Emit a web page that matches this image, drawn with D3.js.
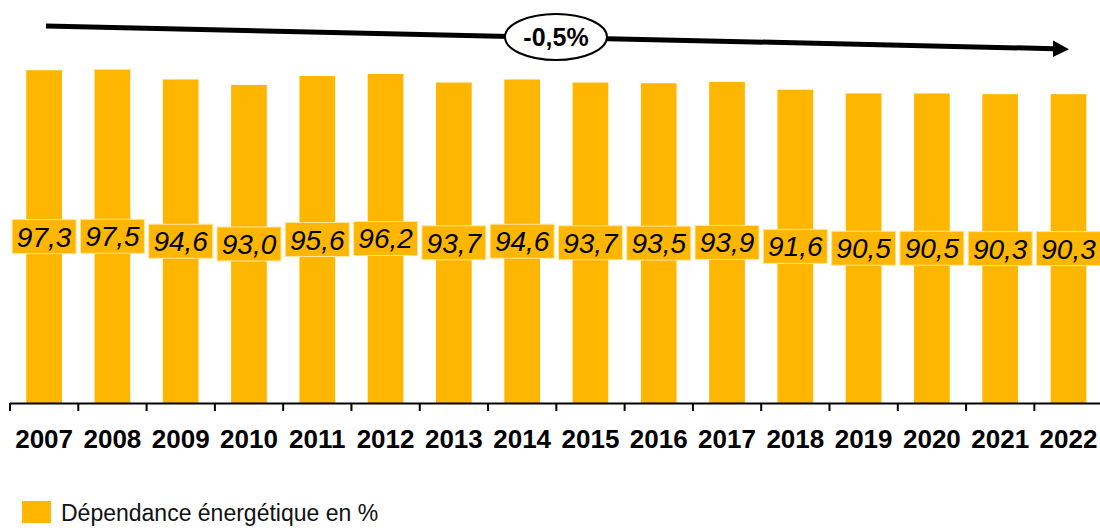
<!DOCTYPE html>
<html><head><meta charset="utf-8">
<script src="https://cdn.jsdelivr.net/npm/d3@7"></script>
<style>body{margin:0;background:#fff}svg{display:block}</style>
</head><body>
<svg id="c" width="1100" height="528"></svg>
<script>
const years = ["2007","2008","2009","2010","2011","2012","2013","2014","2015","2016","2017","2018","2019","2020","2021","2022"];
const values = [97.3,97.5,94.6,93.0,95.6,96.2,93.7,94.6,93.7,93.5,93.9,91.6,90.5,90.5,90.3,90.3];
const seriesName = "Dépendance énergétique en %";
const trendLabel = "-0,5%";

const svg = d3.select("#c");
const color = "#FFB600";
const x = d3.scaleBand().domain(years).range([10, 1102.6]).paddingInner(0.477).paddingOuter(0.238);
const y = d3.scaleLinear().domain([0, 100]).range([403, 61]);
const fmt = v => v.toFixed(1).replace(".", ",");

// bars
svg.append("g").selectAll("rect").data(values).join("rect")
  .attr("x", (d,i) => x(years[i]))
  .attr("y", d => y(d))
  .attr("width", x.bandwidth())
  .attr("height", d => y(0) - y(d))
  .attr("fill", color);

// axis
const axis = d3.axisBottom(x).tickSize(0).tickPadding(0).tickFormat(d => d);
const ag = svg.append("g").attr("transform", "translate(0,403)").call(axis);
ag.select(".domain").remove();
ag.selectAll("text").attr("font-family", "Liberation Sans, Arial, sans-serif")
  .attr("font-size", 26).attr("font-weight", "bold").attr("fill", "#000")
  .attr("dy", null).attr("y", 45);
svg.append("line").attr("x1", 10).attr("x2", 1100).attr("y1", 403.5).attr("y2", 403.5)
  .attr("stroke", "#000").attr("stroke-width", 2);
const step = x.step();
svg.append("g").selectAll("line").data(d3.range(years.length + 1)).join("line")
  .attr("x1", i => x(years[0]) - x.paddingOuter()*step + i*step)
  .attr("x2", i => x(years[0]) - x.paddingOuter()*step + i*step)
  .attr("y1", 403).attr("y2", 411).attr("stroke", "#000").attr("stroke-width", 2);

// value labels
const lg = svg.append("g");
values.forEach((v, i) => {
  const cx = x(years[i]) + x.bandwidth()/2;
  const cy = (y(v) + y(0)) / 2;
  lg.append("rect").attr("x", cx - 32).attr("y", cy - 17).attr("width", 64).attr("height", 34)
    .attr("fill", color).attr("stroke", "#FFE6A0").attr("stroke-width", 1);
  lg.append("text").attr("x", cx).attr("y", cy + 10).attr("text-anchor", "middle")
    .attr("font-family", "Liberation Sans, Arial, sans-serif").attr("font-size", 28)
    .attr("font-style", "italic").attr("fill", "#000").text(fmt(v));
});

// trend arrow
svg.append("line").attr("x1", 46).attr("y1", 26).attr("x2", 1054).attr("y2", 48.7)
  .attr("stroke", "#000").attr("stroke-width", 5);
svg.append("polygon").attr("points", "1053,40.5 1069,49.3 1053,57")
  .attr("fill", "#000");
svg.append("ellipse").attr("cx", 556).attr("cy", 37).attr("rx", 51).attr("ry", 23)
  .attr("fill", "#fff").attr("stroke", "#000").attr("stroke-width", 2);
svg.append("text").attr("x", 556).attr("y", 46).attr("text-anchor", "middle")
  .attr("font-family", "Liberation Sans, Arial, sans-serif").attr("font-size", 25)
  .attr("font-weight", "bold").text(trendLabel);

// legend
svg.append("rect").attr("x", 22).attr("y", 501).attr("width", 29).attr("height", 22).attr("fill", color);
svg.append("text").attr("x", 61).attr("y", 521).attr("font-family", "Liberation Sans, Arial, sans-serif")
  .attr("font-size", 23).attr("fill", "#111").text(seriesName);
</script>
</body></html>
